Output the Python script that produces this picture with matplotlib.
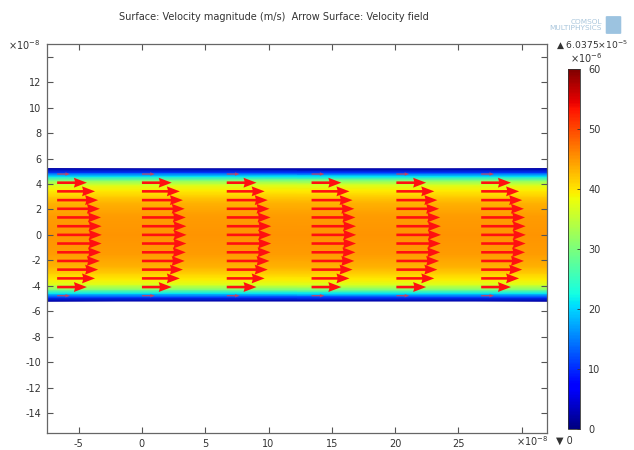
import numpy as np
import matplotlib
matplotlib.use("Agg")
import matplotlib.pyplot as plt

# ---- data (lengths in 1e-8 m, speeds in 1e-6 m/s) ----
profile_y = [-5.2, -4.9, -4.6, -4.3, -3.9, -3.5, -3.0, -2.5, -1.5, 0.0,
             1.5, 2.5, 3.0, 3.5, 3.9, 4.3, 4.6, 4.9, 5.2]
profile_v = [2, 11, 21, 30, 37, 39.5, 41.5, 43.2, 44.6, 45,
             44.6, 43.2, 41.5, 39.5, 37, 30, 21, 11, 2]

arrow_x = [-6.7, 0.0, 6.7, 13.4, 20.1, 26.8]
arrow_y = [4.78, 4.10, 3.42, 2.73, 2.05, 1.37, 0.68, 0.0,
           -0.68, -1.37, -2.05, -2.73, -3.42, -4.10, -4.78]
arrow_speed = [13, 30, 38.2, 41.3, 43.1, 44.2, 44.8, 45,
               44.8, 44.2, 43.1, 41.3, 38.2, 30, 13]

x_ticks = [-5, 0, 5, 10, 15, 20, 25, 30]
x_labels = ["-5", "0", "5", "10", "15", "20", "25", ""]
y_ticks = [-14, -12, -10, -8, -6, -4, -2, 0, 2, 4, 6, 8, 10, 12, 14]
y_labels = ["-14", "-12", "-10", "-8", "-6", "-4", "-2", "0", "2", "4", "6", "8", "10", "12", ""]
cbar_ticks = [0, 10, 20, 30, 40, 50, 60]
vmin, vmax = 0, 60

title = "Surface: Velocity magnitude (m/s)  Arrow Surface: Velocity field"

W, H = 634, 450
fig = plt.figure(figsize=(W / 100, H / 100), dpi=100)
fs = 7
tc = "#333333"

def fx(px):
    return px / W

def fy(py):
    return 1 - py / H

ax = fig.add_axes([fx(47), fy(433), fx(547) - fx(47), fy(44) - fy(433)])
ax.set_xlim(-7.5, 32.0)
ax.set_ylim(-15.57, 15.0)

# surface
xs = [-7.5, 32.0]
Z = np.array([[v, v] for v in profile_v])
mesh = ax.pcolormesh(xs, profile_y, Z, shading="gouraud", cmap="jet",
                     vmin=vmin, vmax=vmax)

# arrows
AX, AY = np.meshgrid(arrow_x, arrow_y)
SP = np.repeat(np.array(arrow_speed)[:, None], len(arrow_x), axis=1)
big = SP > 20
scale = 1 / 0.0784
ax.quiver(AX[big], AY[big], SP[big], np.zeros_like(SP[big]), angles="xy",
          scale_units="xy", scale=scale, units="dots", width=2.6,
          headwidth=3.8, headlength=5.0, headaxislength=4.6, color="#ff1010",
          zorder=3)
small = ~big
ax.quiver(AX[small], AY[small], SP[small], np.zeros_like(SP[small]), angles="xy",
          scale_units="xy", scale=scale, units="dots", width=1.2,
          headwidth=3, headlength=4, headaxislength=3.6, color="#ff3030",
          alpha=0.75, zorder=3)

ax.set_xticks(x_ticks)
ax.set_xticklabels(x_labels)
ax.set_yticks(y_ticks)
ax.set_yticklabels(y_labels)
ax.tick_params(direction="in", length=4, width=0.8, colors="#555555",
               labelcolor=tc, labelsize=fs, top=True, right=True, pad=4)
for s in ax.spines.values():
    s.set_color("#666666")
    s.set_linewidth(0.9)

# colorbar
cax = fig.add_axes([fx(568), fy(429), fx(580) - fx(568), fy(69) - fy(429)])
cb = fig.colorbar(mesh, cax=cax, ticks=cbar_ticks)
cb.ax.tick_params(direction="in", length=2, width=0.6, colors="#333333",
                  labelcolor=tc, labelsize=fs, pad=6)
cb.outline.set_edgecolor("#333333")
cb.outline.set_linewidth(0.6)

# texts
fig.text(fx(274), fy(17), title, ha="center", va="center", fontsize=fs, color=tc)
fig.text(fx(24), fy(45), r"×10$^{-8}$", ha="center", va="center", fontsize=fs, color=tc)
fig.text(fx(532), fy(441), r"×10$^{-8}$", ha="center", va="center", fontsize=fs, color=tc)
fig.text(fx(556), fy(45), r"▲ 6.0375×10$^{-5}$", ha="left", va="center", fontsize=6.6, color=tc)
fig.text(fx(586), fy(58), r"×10$^{-6}$", ha="center", va="center", fontsize=fs, color=tc)
fig.text(fx(556), fy(441), "▼ 0", ha="left", va="center", fontsize=fs, color=tc)
fig.text(fx(602), fy(25), "COMSOL\nMULTIPHYSICS", ha="right", va="center",
         fontsize=5.3, color="#a9c6dc", linespacing=1.0, multialignment="right")
fig.patches.append(matplotlib.patches.FancyBboxPatch(
    (fx(607), fy(33)), fx(13), 16 / H,
    boxstyle="round,pad=0.002", transform=fig.transFigure, figure=fig,
    facecolor="#9cc3e0", edgecolor="none"))

fig.savefig("out.png", dpi=100)
